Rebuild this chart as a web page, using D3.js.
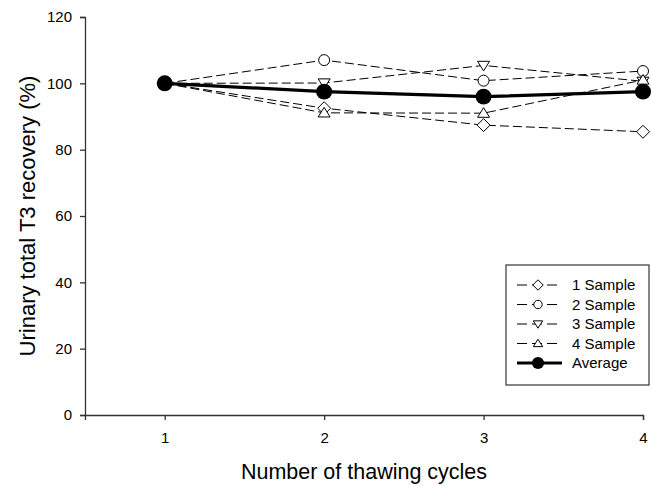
<!DOCTYPE html>
<html>
<head>
<meta charset="utf-8">
<script src="https://cdn.jsdelivr.net/npm/d3@7"></script>
<style>
  body { margin: 0; background: #fff; }
  text { font-family: "Liberation Sans", Arial, sans-serif; fill: #000; }
</style>
</head>
<body>
<svg id="plot"></svg>
<script>
// data
const cycles = [1, 2, 3, 4];
const sample1 = [100, 92.5, 87.4, 85.4];
const sample2 = [100, 107.0, 100.8, 103.7];
const sample3 = [100, 100.1, 105.4, 100.6];
const sample4 = [100, 91.1, 91.0, 101.0];
const average = [100, 97.5, 96.0, 97.5];
const yTicks = [0, 20, 40, 60, 80, 100, 120];

const series = [
    { name: "1 Sample", values: sample1, symbol: "diamond" },
    { name: "2 Sample", values: sample2, symbol: "circle" },
    { name: "3 Sample", values: sample3, symbol: "down" },
    { name: "4 Sample", values: sample4, symbol: "up" },
    { name: "Average", values: average, symbol: "dot" }
];

const svg = d3.select("#plot")
    .attr("width", 651)
    .attr("height", 486);

const margin = { top: 17, right: 8, bottom: 71, left: 85 };
const width = 651 - margin.left - margin.right;
const height = 486 - margin.top - margin.bottom;

const x = d3.scaleLinear().domain([0.5, 4]).range([0, width]);
const y = d3.scaleLinear().domain([0, 120]).range([height, 0]);

const g = svg.append("g")
    .attr("transform", `translate(${margin.left}, ${margin.top})`);

// axes
const xAxis = g.append("g")
    .attr("transform", `translate(0, ${height})`)
    .call(d3.axisBottom(x).tickValues(cycles).tickFormat(d3.format("d")).tickSizeOuter(0).tickSize(5));
const yAxis = g.append("g")
    .call(d3.axisLeft(y).tickValues(yTicks).tickSizeOuter(0).tickSize(5));

[xAxis, yAxis].forEach(a => {
    a.select(".domain").attr("stroke", "#333").attr("stroke-width", 1.3);
    a.selectAll(".tick line").attr("stroke", "#333").attr("stroke-width", 1.3);
    a.selectAll(".tick text")
        .style("font-family", "Liberation Sans, Arial, sans-serif")
        .style("font-size", "15px")
        .attr("fill", "#111");
});
xAxis.selectAll(".tick text").attr("dy", "1.35em");
yAxis.selectAll(".tick text").attr("x", -13);

// axis titles
svg.append("text")
    .attr("x", margin.left + width / 2)
    .attr("y", 479)
    .style("text-anchor", "middle")
    .style("font-size", "21.5px")
    .text("Number of thawing cycles");

svg.append("text")
    .attr("transform", `translate(35, ${margin.top + height / 2}) rotate(-90)`)
    .style("text-anchor", "middle")
    .style("font-size", "22px")
    .text("Urinary total T3 recovery (%)");

// marker drawing
function drawMarker(sel, symbol, size) {
    const s = size || 5.5;
    if (symbol === "circle") {
        sel.append("circle").attr("r", s).attr("fill", "#fff").attr("stroke", "#000").attr("stroke-width", 1);
    } else if (symbol === "dot") {
        sel.append("circle").attr("r", s * 1.45).attr("fill", "#000");
    } else if (symbol === "diamond") {
        sel.append("path").attr("d", `M0,${-s - 1}L${s + 1},0L0,${s + 1}L${-s - 1},0Z`)
            .attr("fill", "#fff").attr("stroke", "#000").attr("stroke-width", 1);
    } else if (symbol === "up") {
        sel.append("path").attr("d", `M0,${-s}L${s + 0.5},${s * 0.75}L${-s - 0.5},${s * 0.75}Z`)
            .attr("fill", "#fff").attr("stroke", "#000").attr("stroke-width", 1);
    } else if (symbol === "down") {
        sel.append("path").attr("d", `M0,${s}L${s + 0.5},${-s * 0.75}L${-s - 0.5},${-s * 0.75}Z`)
            .attr("fill", "#fff").attr("stroke", "#000").attr("stroke-width", 1);
    }
}

const line = d3.line()
    .x((d, i) => x(cycles[i]))
    .y(d => y(d));

// dashed sample lines first, then average on top
series.forEach(s => {
    const isAvg = s.symbol === "dot";
    g.append("path")
        .datum(s.values)
        .attr("fill", "none")
        .attr("stroke", "#000")
        .attr("stroke-width", isAvg ? 3.2 : 1)
        .attr("stroke-dasharray", isAvg ? null : "9,4")
        .attr("d", line);
});
series.forEach(s => {
    s.values.forEach((v, i) => {
        const m = g.append("g").attr("transform", `translate(${x(cycles[i])}, ${y(v)})`);
        drawMarker(m, s.symbol);
    });
});

// legend
const legend = svg.append("g").attr("transform", "translate(506, 265)");
legend.append("rect")
    .attr("width", 143)
    .attr("height", 120)
    .attr("fill", "#fff")
    .attr("stroke", "#444")
    .attr("stroke-width", 1.3);

series.forEach((s, i) => {
    const row = legend.append("g").attr("transform", `translate(0, ${20 + i * 19.5})`);
    const isAvg = s.symbol === "dot";
    row.append("line")
        .attr("x1", 11)
        .attr("x2", isAvg ? 56 : 52)
        .attr("stroke", "#000")
        .attr("stroke-width", isAvg ? 3.2 : 1)
        .attr("stroke-dasharray", isAvg ? null : "10,5");
    const m = row.append("g").attr("transform", "translate(32, 0)");
    drawMarker(m, s.symbol, 4.2);
    row.append("text")
        .attr("x", 66)
        .attr("dy", "0.36em")
        .style("font-size", "15px")
        .text(s.name);
});
</script>
</body>
</html>
